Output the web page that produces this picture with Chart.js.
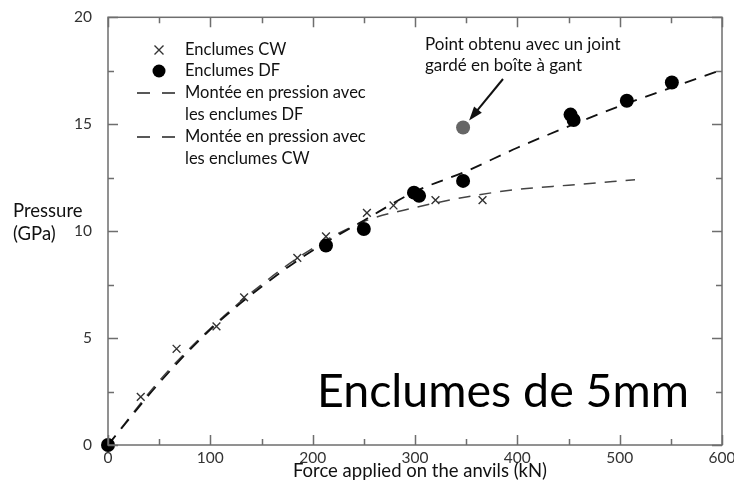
<!DOCTYPE html>
<html>
<head>
<meta charset="utf-8">
<script src="https://cdn.jsdelivr.net/npm/chart.js@4/dist/chart.umd.min.js"></script>
<style>
  html, body { margin: 0; padding: 0; background: #fff; }
  #wrap { width: 734px; height: 481px; position: relative; }
</style>
</head>
<body>
<div id="wrap"><canvas id="chart" width="734" height="481"></canvas></div>
<script>
/* ---- data ---- */
var cwForce      = [32, 67, 106, 133, 185, 213, 253, 279, 320, 366];
var cwPressure   = [2.25, 4.5, 5.55, 6.9, 8.75, 9.75, 10.85, 11.2, 11.45, 11.45];

var dfForce      = [0, 213, 250, 299, 304, 347, 452, 455, 507, 551];
var dfPressure   = [0, 9.33, 10.1, 11.8, 11.65, 12.35, 15.45, 15.2, 16.1, 16.95];

var gloveForce    = [347];
var glovePressure = [14.85];

var dfFitForce    = [0, 50, 100, 150, 200, 250, 300, 350, 400, 450, 500, 550, 600];
var dfFitPressure = [0, 2.9, 5.4, 7.4, 9.1, 10.5, 11.85, 12.8, 13.9, 14.9, 15.85, 16.7, 17.55];

var cwFitForce    = [0, 50, 100, 150, 200, 250, 300, 350, 400, 450, 515];
var cwFitPressure = [0, 3.0, 5.45, 7.5, 9.2, 10.45, 11.1, 11.6, 11.95, 12.15, 12.4];

var xTicks = [0, 100, 200, 300, 400, 500, 600];
var yTicks = [0, 5, 10, 15, 20];

var legendLabels = [
    ['Enclumes CW'],
    ['Enclumes DF'],
    ['Montée en pression avec', 'les enclumes DF'],
    ['Montée en pression avec', 'les enclumes CW']
];
var noteLines = ['Point obtenu avec un joint', 'gardé en boîte à gant'];
var bigTitle = 'Enclumes de 5mm';

var FONT = 'Lato, "Open Sans", sans-serif';
var AXIS = '#6e6e6e';

function pairs(xs, ys) {
    return xs.map(function(x, i) { return { x: x, y: ys[i] }; });
}

/* ── inward ticks, box, legend and texts ───────────────── */
var decorPlugin = {
    id: 'decor',
    afterDraw: function(chart) {
        var c = chart.ctx, a = chart.chartArea;
        var xs = chart.scales.x, ys = chart.scales.y;
        c.save();
        c.strokeStyle = AXIS;
        c.lineWidth = 1.5;
        c.strokeRect(a.left, a.top, a.right - a.left, a.bottom - a.top);

        // x ticks, bottom and top, every 50 with majors at 100
        for (var v = 0; v <= 600; v += 50) {
            var px = Math.round(xs.getPixelForValue(v)) + 0.5;
            var len = v % 100 === 0 ? 10 : 6;
            c.beginPath();
            c.moveTo(px, a.bottom); c.lineTo(px, a.bottom - len);
            c.moveTo(px, a.top);    c.lineTo(px, a.top + len);
            c.stroke();
        }
        // y ticks, left and right, every 2.5 with majors at 5
        for (var w = 0; w <= 20; w += 2.5) {
            var py = Math.round(ys.getPixelForValue(w)) + 0.5;
            var l2 = w % 5 === 0 ? 10 : 6;
            c.beginPath();
            c.moveTo(a.left, py);  c.lineTo(a.left + l2, py);
            c.moveTo(a.right, py); c.lineTo(a.right - l2, py);
            c.stroke();
        }

        // axis titles
        c.fillStyle = '#111';
        c.font = '18.5px ' + FONT;
        c.textBaseline = 'middle';
        c.textAlign = 'left';
        c.fillText('Pressure', 13, 211);
        c.fillText('(GPa)', 13, 234);
        c.textAlign = 'center';
        c.fillText('Force applied on the anvils (kN)', 420, 471);

        // legend
        var lx = 159, tx = 185;
        var rows = [50, 71, 93, 137];
        c.font = '16.5px ' + FONT;
        c.textAlign = 'left';
        legendLabels.forEach(function(lines, i) {
            lines.forEach(function(t, k) {
                c.fillText(t, tx, rows[i] + k * 22);
            });
        });
        // cross
        c.strokeStyle = '#333'; c.lineWidth = 1.4;
        c.beginPath();
        c.moveTo(lx - 4.5, rows[0] - 4.5); c.lineTo(lx + 4.5, rows[0] + 4.5);
        c.moveTo(lx + 4.5, rows[0] - 4.5); c.lineTo(lx - 4.5, rows[0] + 4.5);
        c.stroke();
        // dot
        c.fillStyle = '#000';
        c.beginPath(); c.arc(lx, rows[1], 6.5, 0, Math.PI * 2); c.fill();
        // dashes
        c.lineWidth = 1.6; c.strokeStyle = '#222';
        [rows[2], rows[3]].forEach(function(y) {
            c.beginPath();
            c.moveTo(137, y); c.lineTo(150, y);
            c.moveTo(162, y); c.lineTo(175, y);
            c.stroke();
        });

        // note + arrow to the glove-box point
        c.fillStyle = '#111';
        c.font = '17px ' + FONT;
        c.fillText(noteLines[0], 425, 45);
        c.fillText(noteLines[1], 425, 66);
        var gx = xs.getPixelForValue(gloveForce[0]), gy = ys.getPixelForValue(glovePressure[0]);
        var tipX = gx + 6, tipY = gy - 7, tailX = 503, tailY = 79;
        var ang = Math.atan2(tipY - tailY, tipX - tailX);
        c.strokeStyle = '#111'; c.lineWidth = 2;
        c.beginPath(); c.moveTo(tailX, tailY);
        c.lineTo(tipX - 10 * Math.cos(ang), tipY - 10 * Math.sin(ang)); c.stroke();
        c.fillStyle = '#111';
        c.beginPath();
        c.moveTo(tipX, tipY);
        c.lineTo(tipX - 14 * Math.cos(ang) + 5 * Math.sin(ang), tipY - 14 * Math.sin(ang) - 5 * Math.cos(ang));
        c.lineTo(tipX - 14 * Math.cos(ang) - 5 * Math.sin(ang), tipY - 14 * Math.sin(ang) + 5 * Math.cos(ang));
        c.closePath(); c.fill();

        // big label
        c.fillStyle = '#000';
        c.font = '46.5px ' + FONT;
        c.textAlign = 'left';
        c.textBaseline = 'alphabetic';
        c.fillText(bigTitle, 317, 407);
        c.restore();
    }
};

new Chart(document.getElementById('chart'), {
    type: 'scatter',
    data: {
        datasets: [
            {
                label: 'Point joint boîte à gant',
                data: pairs(gloveForce, glovePressure),
                pointStyle: 'circle', pointRadius: 7,
                backgroundColor: '#666', borderColor: '#666', borderWidth: 0
            },
            {
                label: 'Enclumes DF',
                data: pairs(dfForce, dfPressure),
                pointStyle: 'circle', pointRadius: 7,
                backgroundColor: '#000', borderColor: '#000', borderWidth: 0,
                clip: false
            },
            {
                label: 'Enclumes CW',
                data: pairs(cwForce, cwPressure),
                pointStyle: 'crossRot', pointRadius: 5.5,
                borderColor: '#333', borderWidth: 1.4
            },
            {
                label: 'Montée en pression avec les enclumes DF',
                data: pairs(dfFitForce, dfFitPressure),
                showLine: true, pointRadius: 0,
                borderColor: '#111', borderWidth: 1.8, borderDash: [12, 9],
                cubicInterpolationMode: 'monotone'
            },
            {
                label: 'Montée en pression avec les enclumes CW',
                data: pairs(cwFitForce, cwFitPressure),
                showLine: true, pointRadius: 0,
                borderColor: '#444', borderWidth: 1.5, borderDash: [12, 9],
                cubicInterpolationMode: 'monotone'
            }
        ]
    },
    options: {
        responsive: false,
        animation: false,
        layout: { padding: { top: 15, right: 12, left: 0, bottom: 0 } },
        plugins: { legend: { display: false }, tooltip: { enabled: false } },
        scales: {
            x: {
                type: 'linear', min: 0, max: 600,
                afterBuildTicks: function(s) { s.ticks = xTicks.map(function(v) { return { value: v }; }); },
                afterFit: function(s) { s.height = 36; },
                grid: { display: false },
                border: { display: false },
                ticks: { color: '#333', font: { family: FONT, size: 15.5 }, padding: -4, maxRotation: 0 }
            },
            y: {
                type: 'linear', min: 0, max: 20,
                afterBuildTicks: function(s) { s.ticks = yTicks.map(function(v) { return { value: v }; }); },
                afterFit: function(s) { s.width = 108; },
                grid: { display: false },
                border: { display: false },
                ticks: { color: '#333', font: { family: FONT, size: 15.5 }, padding: 8 }
            }
        }
    },
    plugins: [decorPlugin]
});
</script>
</body>
</html>
